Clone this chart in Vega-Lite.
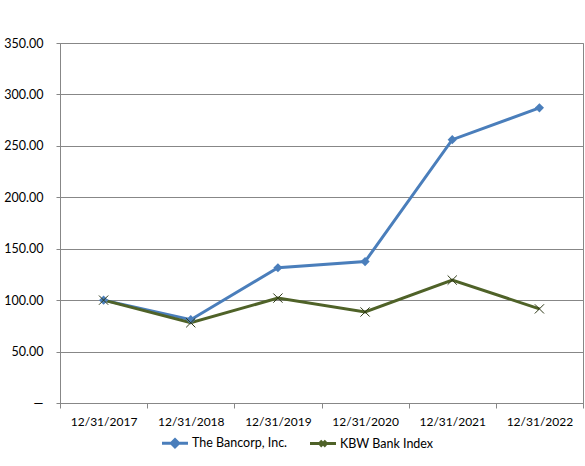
{
  "$schema": "https://vega.github.io/schema/vega-lite/v6.json",
  "width": 523,
  "height": 360,
  "autosize": {"type": "none"},
  "padding": {"left": 60, "top": 43, "right": 2, "bottom": 63},
  "background": "white",
  "config": {"view": {"stroke": "#878787", "strokeWidth": 1}, "font": "Lato"},
  "data": {"values": [
    {"date": "12/31/2017", "series": "The Bancorp, Inc.", "value": 100},
    {"date": "12/31/2018", "series": "The Bancorp, Inc.", "value": 81},
    {"date": "12/31/2019", "series": "The Bancorp, Inc.", "value": 131.5},
    {"date": "12/31/2020", "series": "The Bancorp, Inc.", "value": 137.5},
    {"date": "12/31/2021", "series": "The Bancorp, Inc.", "value": 256},
    {"date": "12/31/2022", "series": "The Bancorp, Inc.", "value": 287},
    {"date": "12/31/2017", "series": "KBW Bank Index", "value": 100},
    {"date": "12/31/2018", "series": "KBW Bank Index", "value": 78},
    {"date": "12/31/2019", "series": "KBW Bank Index", "value": 102},
    {"date": "12/31/2020", "series": "KBW Bank Index", "value": 88.5},
    {"date": "12/31/2021", "series": "KBW Bank Index", "value": 119.5},
    {"date": "12/31/2022", "series": "KBW Bank Index", "value": 91.5}
  ]},
  "encoding": {
    "x": {
      "field": "date", "type": "ordinal", "sort": null,
      "scale": {"type": "band", "paddingInner": 0, "paddingOuter": 0},
      "axis": {"title": null, "tickBand": "extent", "grid": false, "domainColor": "#878787", "tickColor": "#878787", "tickSize": 5, "labelAngle": 0, "labelPadding": 8, "labelFontSize": 12, "labelColor": "#000000", "labelFont": "Lato"}
    },
    "y": {
      "field": "value", "type": "quantitative",
      "scale": {"domain": [0, 350], "nice": false},
      "axis": {"title": null, "values": [0, 50, 100, 150, 200, 250, 300, 350], "labelExpr": "datum.value == 0 ? '—' : format(datum.value, '.2f')", "grid": true, "gridColor": "#878787", "domainColor": "#878787", "tickColor": "#878787", "tickSize": 4, "labelPadding": 13, "labelFontSize": 12.5, "labelColor": "#000000", "labelFont": "Lato"}
    }
  },
  "layer": [
    {
      "mark": {"type": "line", "strokeWidth": 3},
      "encoding": {
        "color": {"field": "series", "type": "nominal", "sort": null,
          "scale": {"domain": ["The Bancorp, Inc.", "KBW Bank Index"], "range": ["#4a7ebb", "#4f6228"]},
          "legend": {
            "title": null, "orient": "none", "direction": "horizontal", "legendX": 105, "legendY": 390,
            "symbolSize": 264, "labelFontSize": 12.5, "labelFont": "Lato", "labelColor": "#000000", "labelOffset": 7, "columnPadding": 16,
            "encode": {"symbols": {"update": {
              "shape": {"signal": "datum.value === 'The Bancorp, Inc.' ? 'M-1.6,0H1.6M0,-0.45L0.45,0L0,0.45L-0.45,0Z' : 'M-1.6,0H1.6M-0.35,-0.35L0.35,0.35M-0.35,0.35L0.35,-0.35'"},
              "stroke": {"signal": "datum.value === 'The Bancorp, Inc.' ? '#4a7ebb' : '#4f6228'"},
              "fill": {"signal": "datum.value === 'The Bancorp, Inc.' ? '#4a7ebb' : '#4f6228'"},
              "strokeWidth": {"value": 3},
              "opacity": {"value": 1}
            }}}
          }}
      }
    },
    {
      "transform": [{"filter": "datum.series === 'The Bancorp, Inc.'"}],
      "mark": {"type": "point", "shape": "M0,-1L1,0L0,1L-1,0Z", "filled": true, "opacity": 1, "size": 85, "color": "#4a7ebb"}
    },
    {
      "transform": [{"filter": "datum.series === 'KBW Bank Index'"}],
      "mark": {"type": "point", "shape": "M-1,-1L1,1M-1,1L1,-1", "filled": false, "opacity": 1, "size": 85, "stroke": "#2f3a18", "strokeWidth": 1}
    }
  ]
}
